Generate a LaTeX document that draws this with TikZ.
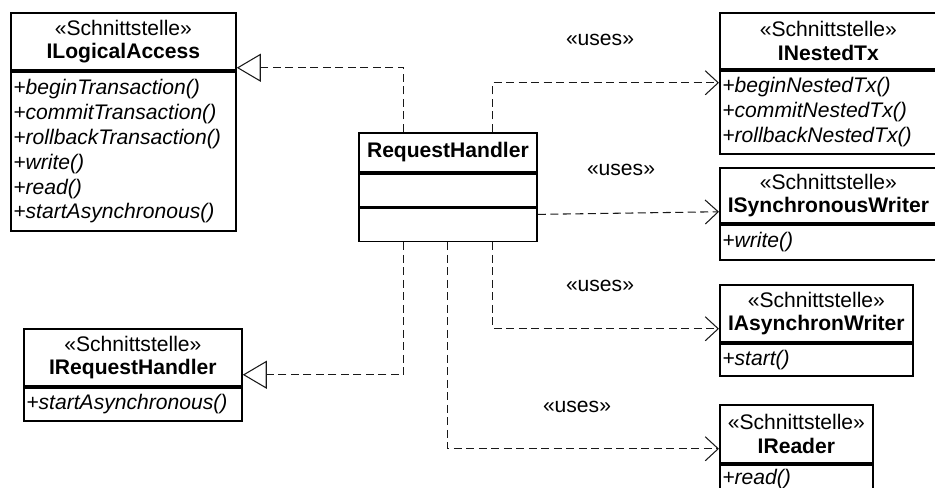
\documentclass[tikz,border=0pt]{standalone}
\usepackage{fontspec}
\setmainfont{Liberation Sans}
\usetikzlibrary{arrows.meta}

\begin{document}
\begin{tikzpicture}[font=\fontsize{12}{14.2}\selectfont]
        \tikzset{uml/.style={draw, line width=1pt, anchor=north west, inner xsep=0.05cm, inner ysep=0pt},
                 head/.style={uml, align=center, text width=#1, font=\fontsize{12}{13.2}\selectfont},
                 body/.style={uml, align=left, text width=#1, font=\fontsize{12}{14.2}\selectfont\itshape},
                 dep/.style={draw=black!90, line width=0.6pt, dash pattern=on 0.16cm off 0.09cm},
                 real/.style={dep, -{Triangle[open, length=0.48cm, width=0.56cm]}},
                 uses/.style={dep, -{Straight Barb[length=0.26cm, width=0.48cm]}}}
        \useasboundingbox (0,0) rectangle (18.7,-9.76);

        \node[head=4.4cm, minimum height=1.14cm] (logh) at (0.2,-0.24) {«Schnittstelle»\\\textbf{ILogicalAccess}};
        \node[body=4.4cm, minimum height=3.18cm] (logb) at (logh.south west) {+beginTransaction()\\+commitTransaction()\\+rollbackTransaction()\\+write()\\+read()\\+startAsynchronous()};

        \node[head=4.26cm, minimum height=1.14cm] (irhh) at (0.46,-6.56) {«Schnittstelle»\\\textbf{IRequestHandler}};
        \node[body=4.26cm, minimum height=0.66cm] (irhb) at (irhh.south west) {+startAsynchronous()};

        \node[head=3.46cm, minimum height=0.78cm] (rhh) at (7.16,-2.64) {\textbf{RequestHandler}};
        \node[body=3.46cm, minimum height=0.66cm] (rha) at (rhh.south west) {};
        \node[body=3.46cm, minimum height=0.66cm] (rhm) at (rha.south west) {};

        \node[head=4.24cm, minimum height=1.12cm] (ntxh) at (14.38,-0.24) {«Schnittstelle»\\\textbf{INestedTx}};
        \node[body=4.24cm, minimum height=1.66cm] (ntxb) at (ntxh.south west) {+beginNestedTx()\\+commitNestedTx()\\+rollbackNestedTx()};

        \node[head=4.24cm, minimum height=1.1cm] (swh) at (14.38,-3.34) {«Schnittstelle»\\\textbf{ISynchronousWriter}};
        \node[body=4.24cm, minimum height=0.7cm] (swb) at (swh.south west) {+write()};

        \node[head=3.76cm, minimum height=1.14cm] (awh) at (14.38,-5.68) {«Schnittstelle»\\\textbf{IAsynchronWriter}};
        \node[body=3.76cm, minimum height=0.64cm] (awb) at (awh.south west) {+start()};

        \node[head=2.96cm, minimum height=1.16cm] (rdh) at (14.38,-8.08) {«Schnittstelle»\\\textbf{IReader}};
        \node[body=2.96cm, minimum height=0.56cm] (rdb) at (rdh.south west) {+read()};

        \draw[real] ([xshift=-0.88cm]rhh.north) |- ([yshift=0.06cm]logh.south east);
        \draw[real] ([xshift=-0.88cm]rhm.south) |- ([yshift=0.24cm]irhh.south east);
        \draw[uses] ([xshift=0.9cm]rhh.north) |- ([yshift=-0.26cm]ntxh.south west);
        \draw[uses] ([yshift=0.21cm]rhm.east) -- ([yshift=0.24cm]swh.south west);
        \draw[uses] ([xshift=0.9cm]rhm.south) |- ([yshift=0.28cm]awh.south west);
        \draw[uses] (rhm.south) |- ([yshift=0.3cm]rdh.south west);

        \node (u1) at (12.0,-0.8) {«uses»};
        \node (u2) at (12.42,-3.4) {«uses»};
        \node (u3) at (12.0,-5.72) {«uses»};
        \node (u4) at (11.54,-8.14) {«uses»};
    \end{tikzpicture}
\end{document}
